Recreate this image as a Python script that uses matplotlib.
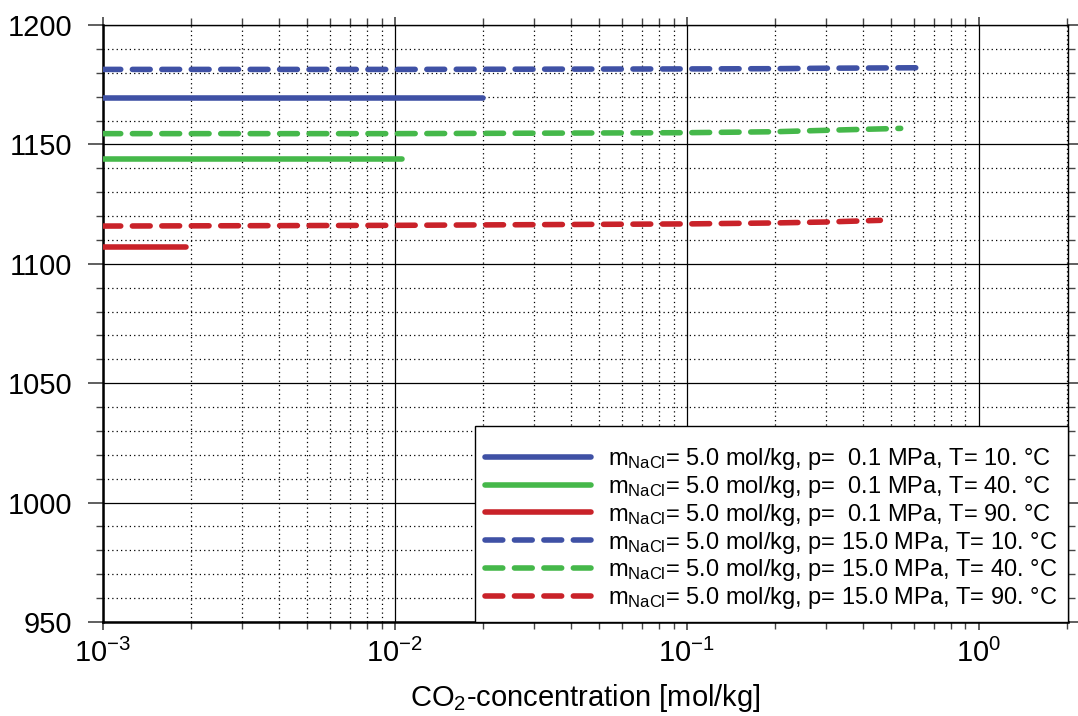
import numpy as np
import matplotlib
matplotlib.use("Agg")
import matplotlib.pyplot as plt
from matplotlib.ticker import LogLocator, MultipleLocator, FixedLocator

plt.rcParams['font.family'] = ['Liberation Sans', 'DejaVu Sans']
plt.rcParams['mathtext.fontset'] = 'custom'
plt.rcParams['mathtext.rm'] = 'Liberation Sans'
plt.rcParams['mathtext.it'] = 'Liberation Sans'
plt.rcParams['mathtext.default'] = 'regular'

# ---- data ----
x_s10 = [1e-3, 0.02]
y_s10 = [1169.4, 1169.4]
x_s40 = [1e-3, 0.0106]
y_s40 = [1143.9, 1143.9]
x_s90 = [1e-3, 0.00192]
y_s90 = [1107.0, 1107.0]

x_d10 = [1e-3, 1e-2, 0.1, 0.2, 0.3, 0.45, 0.64]
y_d10 = [1181.4, 1181.4, 1181.6, 1181.7, 1181.9, 1182.0, 1182.1]
x_d40 = [1e-3, 1e-2, 0.1, 0.2, 0.3, 0.4, 0.54]
y_d40 = [1154.5, 1154.5, 1154.9, 1155.3, 1155.9, 1156.3, 1156.7]
x_d90 = [1e-3, 1e-2, 0.1, 0.2, 0.3, 0.46]
y_d90 = [1115.8, 1116.1, 1116.7, 1117.1, 1117.5, 1118.2]

labels = [
    r'm$_{\mathregular{NaCl}}$= 5.0 mol/kg, p=  0.1 MPa, T= 10. °C',
    r'm$_{\mathregular{NaCl}}$= 5.0 mol/kg, p=  0.1 MPa, T= 40. °C',
    r'm$_{\mathregular{NaCl}}$= 5.0 mol/kg, p=  0.1 MPa, T= 90. °C',
    r'm$_{\mathregular{NaCl}}$= 5.0 mol/kg, p= 15.0 MPa, T= 10. °C',
    r'm$_{\mathregular{NaCl}}$= 5.0 mol/kg, p= 15.0 MPa, T= 40. °C',
    r'm$_{\mathregular{NaCl}}$= 5.0 mol/kg, p= 15.0 MPa, T= 90. °C',
]
xticks = [1e-3, 1e-2, 1e-1, 1e0]
xticklabels = [r'$10^{-3}$', r'$10^{-2}$', r'$10^{-1}$', r'$10^{0}$']
yticks = [950, 1000, 1050, 1100, 1150, 1200]

blue = '#3f51a5'
green = '#45b84a'
red = '#c92229'

fig = plt.figure(figsize=(10.78, 7.16), dpi=100)
ax = fig.add_axes([0.0955, 0.1313, 0.8952, 0.8338])

lw = 4.0
series = [
    (x_s10, y_s10, blue, '-'), (x_s40, y_s40, green, '-'), (x_s90, y_s90, red, '-'),
    (x_d10, y_d10, blue, '--'), (x_d40, y_d40, green, '--'), (x_d90, y_d90, red, '--'),
]
for (xs, ys, c, ls), lab in zip(series, labels):
    l, = ax.plot(xs, ys, color=c, lw=lw, solid_capstyle='round', dash_capstyle='round',
                 label=lab, zorder=3)
    if ls == '--':
        l.set_dashes((3.2, 2.1))

ax.set_xscale('log')
ax.set_xlim(1e-3, 2.02)
ax.set_ylim(950, 1200)
ax.xaxis.set_major_locator(FixedLocator(xticks))
ax.set_xticks(xticks)
ax.set_xticklabels(xticklabels)
ax.xaxis.set_minor_locator(LogLocator(base=10, subs=np.arange(2, 10), numticks=20))
ax.xaxis.set_minor_formatter(plt.NullFormatter())
ax.set_yticks(yticks)
ax.yaxis.set_minor_locator(MultipleLocator(10))

ax.grid(which='major', color='black', lw=0.9, ls='-', zorder=1)
ax.grid(which='minor', color='black', lw=0.9, ls=(0, (1, 2.5)), zorder=1)

ax.tick_params(which='both', direction='out', top=True, right=True, labelsize=21, color='#444444')
ax.tick_params(axis='y', which='major', length=11, width=1.2, pad=11)
ax.tick_params(axis='y', which='minor', length=5, width=1.0)
ax.tick_params(axis='x', which='major', length=6, width=1.2, pad=6)
ax.tick_params(axis='x', which='minor', length=5, width=1.0)
for s in ax.spines.values():
    s.set_linewidth(1.0)
ax.spines['left'].set_linewidth(1.8)
ax.spines['bottom'].set_linewidth(1.8)

ax.set_xlabel(r'CO$_2$-concentration [mol/kg]', fontsize=21, labelpad=10)

leg = ax.legend(loc='lower right', fontsize=17, handlelength=4.5, frameon=True,
                fancybox=False, borderaxespad=0.0, labelspacing=0.08, handletextpad=0.7,
                title=' ', title_fontsize=5, borderpad=0.45)
leg.get_frame().set_edgecolor('black')
leg.get_frame().set_linewidth(1.0)
leg.get_frame().set_alpha(1.0)
leg.set_zorder(5)

fig.savefig('out.png', dpi=100)
